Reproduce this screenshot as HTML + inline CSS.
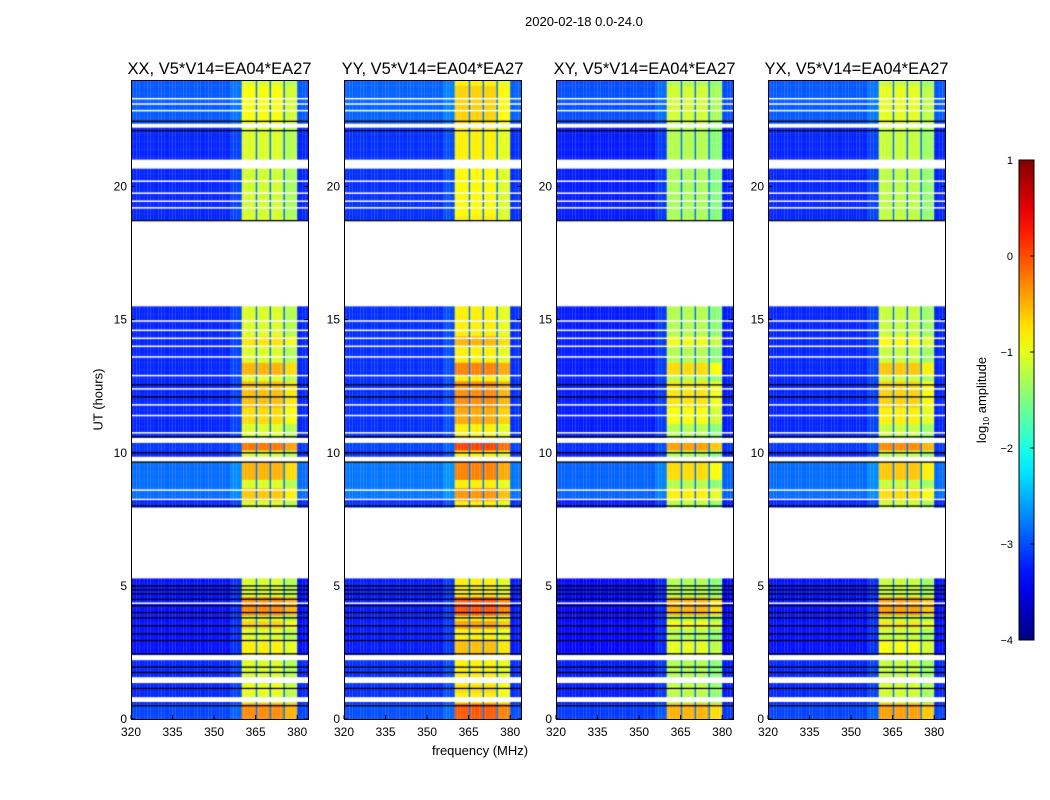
<!DOCTYPE html>
<html><head><meta charset="utf-8">
<style>
body{margin:0;background:#fff;font-family:"Liberation Sans","DejaVu Sans",sans-serif;}
#wrap{position:relative;width:1050px;height:800px;overflow:hidden;background:#fff;}
.t{position:absolute;white-space:nowrap;color:#000;}
canvas{position:absolute;z-index:1;}
#svg{z-index:2;}
</style></head><body>
<div id="wrap">
<div class="t" style="left:525px;top:14px;font-size:13px;">2020-02-18 0.0-24.0</div>
<div class="t" style="left:432px;top:743px;font-size:13px;">frequency (MHz)</div>
<div class="t" style="left:60px;top:392px;font-size:13px;transform:rotate(-90deg);transform-origin:center;width:76px;text-align:center;">UT (hours)</div>
<svg id="svg" width="1050" height="800" style="position:absolute;left:0;top:0"></svg>
</div>
<script>
// ---- data ----
const panelTitles = ["XX, V5*V14=EA04*EA27","YY, V5*V14=EA04*EA27","XY, V5*V14=EA04*EA27","YX, V5*V14=EA04*EA27"];
const panelLeft = [131,344,556,768];
const bandLevel = [-1.05,-0.8,-1.25,-1.15];   // log amplitude in RFI band per panel
const bgLevel = [-3.2,-3.15,-3.25,-3.2];
const xTicks = [320,335,350,365,380];
const yTicks = [0,5,10,15,20];
const cbTicks = [1,0,-1,-2,-3,-4];
const freqStart = 320, freqEnd = 384;
const bandStart = 360.4, bandEnd = 380;
const notchFreqs = [365.2,370.2,375.2];
// data gaps in hours [start,end]
const gaps = [[0.64,0.82],[1.35,1.57],[2.21,2.40],[5.28,7.94],[9.66,9.85],[10.37,10.56],[15.5,18.73],[20.67,21.01],[22.21,22.36]];
// band boosts [start,end,delta]
const bandBoost = [[0,0.6,0.75],[0.9,1.3,0.1],[2.4,3.0,0.25],[3.4,3.7,0.4],[3.9,4.6,0.75],[8.1,8.6,0.45],[8.9,9.6,0.55],[10.0,10.37,0.85],[11.0,11.6,0.35],[11.6,12.6,0.5],[12.8,13.3,0.55],[13.9,14.3,0.3],[18.8,20.7,-0.05],[22.4,23.8,0.15]];
// background boosts [start,end,delta]
const bgBoost = [[8.2,9.6,0.35],[22.4,24,0.25],[0,0.6,0.15],[10.0,10.37,0.1],[2.4,5.28,-0.1]];
// thin horizontal lines (hours)
const whiteLines = [23.3,23.1,22.85,20.2,19.75,19.45,19.2,14.95,14.6,14.3,14.0,13.6,12.9,12.4,11.8,11.4,10.75,8.6,8.25,4.35];
const blackLines = [22.45,22.1,18.72,12.55,12.1,10.6,10.0,9.65,8.0,5.0,4.85,4.7,4.5,4.25,4.0,3.8,3.5,3.2,2.95,2.45,1.95,1.75,1.15,0.5];

// ---- geometry ----
const top0=80, bot0=719, pw=177;
function yPix(h){return bot0-(h/24)*(bot0-top0);}
function xPix(f,left){return left+(f-freqStart)*2.77;}
function jet(v){
  let t=Math.max(0,Math.min(1,(v+4)/5));
  const c=(x)=>Math.max(0,Math.min(1,x));
  const r=c(1.5-Math.abs(4*t-3)), g=c(1.5-Math.abs(4*t-2)), b=c(1.5-Math.abs(4*t-1));
  return `rgb(${Math.round(r*255)},${Math.round(g*255)},${Math.round(b*255)})`;
}
function boostAt(list,h){let d=0;for(const s of list){if(h>=s[0]&&h<s[1])d+=s[2];}return d;}
const NS="http://www.w3.org/2000/svg";
const svg=document.getElementById('svg');
const wrap=document.getElementById('wrap');
function mk(tag,attrs,parent){const e=document.createElementNS(NS,tag);for(const k in attrs)e.setAttribute(k,attrs[k]);(parent||svg).appendChild(e);return e;}

panelTitles.forEach((title,p)=>{
  const left=panelLeft[p];
  const cv=document.createElement('canvas');
  cv.width=pw;cv.height=bot0-top0;
  cv.style.left=left+'px';cv.style.top=top0+'px';
  
  
  wrap.appendChild(cv);
  const ctx=cv.getContext('2d');
  const dh=0.1;
  for(let h=0;h<24;h+=dh){
    const y0=yPix(h+dh)-top0, y1=yPix(h)-top0;
    for(let f=freqStart;f<freqEnd;f++){
      let v;
      const fc=f+0.5;
      if(fc>=bandStart&&fc<bandEnd){
        v=bandLevel[p]+boostAt(bandBoost,h);
        if(fc>=375&&fc<380) v-=0.2;
      } else {
        v=bgLevel[p]+boostAt(bgBoost,h);
        if(fc<bandStart&&fc>bandStart-4) v+=0.15;
      }
      ctx.fillStyle=jet(v);
      ctx.fillRect(xPix(f,0),y0,2.8,y1-y0+0.5);
    }
  }
  notchFreqs.forEach(f=>{ctx.fillStyle=jet(-2.8);ctx.fillRect(xPix(f,0)-0.5,0,1.5,cv.height);});
  ctx.fillStyle='#fff';
  gaps.forEach(g=>{const a=yPix(g[1])-top0,b=yPix(g[0])-top0;ctx.fillRect(0,a,pw,b-a);});
  whiteLines.forEach(h=>{ctx.fillStyle='#fff';ctx.fillRect(0,yPix(h)-top0-0.7,pw,1.5);});
  blackLines.forEach(h=>{ctx.fillStyle='#000';ctx.fillRect(0,yPix(h)-top0-0.6,pw,1.3);});

  const fr=mk('rect',{x:left+0.5,y:top0+0.5,width:pw,height:bot0-top0,fill:'none',stroke:'#000','stroke-width':1});
  
  
  const tt=mk('text',{x:left+pw/2,y:74,'text-anchor':'middle','font-size':16.5,'font-family':'Liberation Sans, sans-serif'});
  tt.textContent=title;
  
  
  xTicks.forEach(f=>{
    const x=xPix(f,left);
    mk('line',{x1:x,x2:x,y1:bot0,y2:bot0-4,stroke:'#000'});
    const t=mk('text',{x:x,y:736,'text-anchor':'middle','font-size':12,'font-family':'Liberation Sans, sans-serif'});
    t.textContent=f;
    
    
  });
  yTicks.forEach(h=>{
    const y=yPix(h);
    mk('line',{x1:left,x2:left+4,y1:y,y2:y,stroke:'#000'});
    mk('line',{x1:left+pw,x2:left+pw-4,y1:y,y2:y,stroke:'#000'});
    const t=mk('text',{x:left-4,y:y+4,'text-anchor':'end','font-size':12,'font-family':'Liberation Sans, sans-serif'});
    t.textContent=h;
    
    
  });
});

// colorbar
const cbx=1019, cbw=15, cbTop=160, cbBot=640;
const defs=mk('defs',{});
const grad=mk('linearGradient',{id:'cbg',x1:0,y1:1,x2:0,y2:0},defs);
for(let i=0;i<=20;i++){const v=-4+5*i/20;mk('stop',{offset:(i/20),'stop-color':jet(v)},grad);}
const cb=mk('rect',{x:cbx,y:cbTop,width:cbw,height:cbBot-cbTop,fill:'url(#cbg)',stroke:'#000','stroke-width':1});


cbTicks.forEach(v=>{
  const y=cbBot-(v+4)/5*(cbBot-cbTop);
  mk('line',{x1:cbx+cbw-4,x2:cbx+cbw,y1:y,y2:y,stroke:'#000'});
  const t=mk('text',{x:1013,y:y+4,'text-anchor':'end','font-size':11,'font-family':'Liberation Sans, DejaVu Sans, sans-serif'});
  t.textContent=(v<0?'\u2212'+(-v):v);
  
  
});
const cl=mk('text',{x:986,y:400,'text-anchor':'middle','font-size':13,'font-family':'Liberation Sans, sans-serif',transform:'rotate(-90 986 400)'});
cl.innerHTML='log<tspan font-size="8" dy="3">10</tspan><tspan dy="-3"> amplitude</tspan>';


</script>
</body></html>
